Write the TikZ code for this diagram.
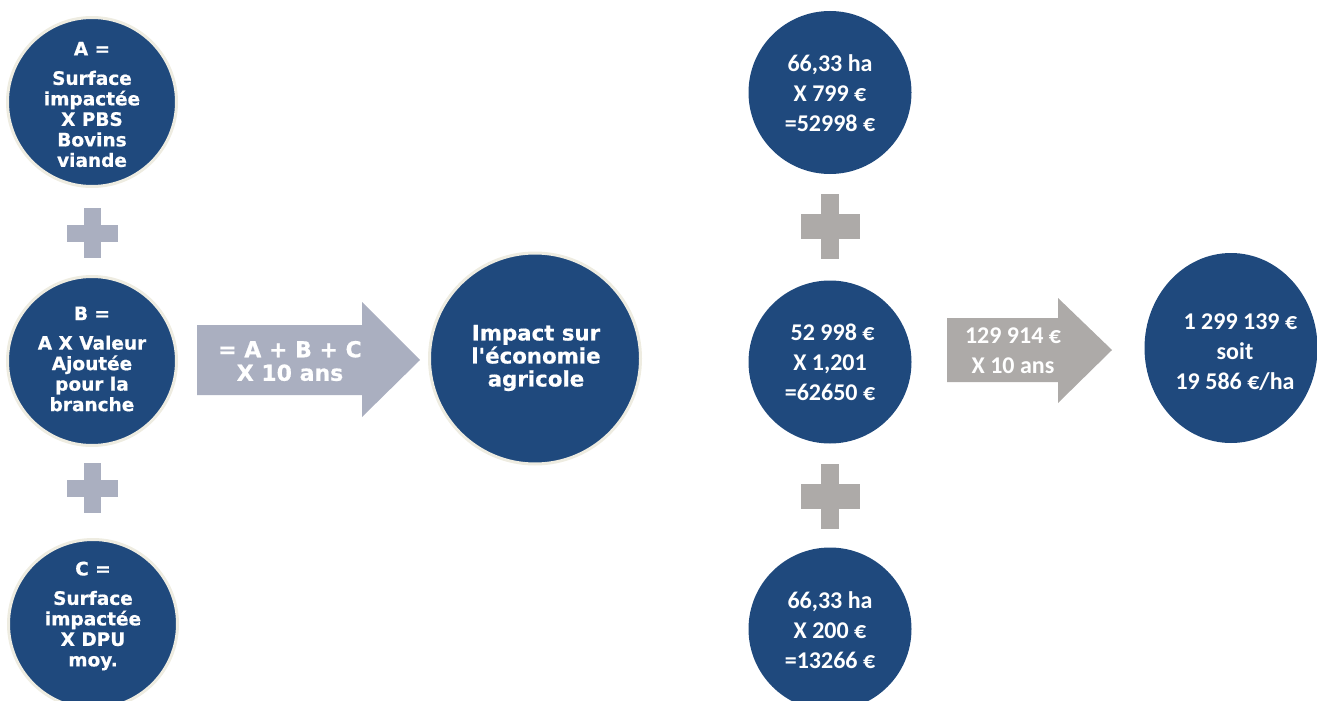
\documentclass[tikz,border=0pt]{standalone}
\usepackage{fontspec}
\newfontfamily\vfont{DejaVu Sans}[BoldFeatures={FakeBold=0.6}]
\newfontfamily\cfont{Carlito}
\usetikzlibrary{shapes.geometric}
\definecolor{dblue}{RGB}{31,73,125}
\definecolor{cream}{RGB}{238,236,225}
\definecolor{bgray}{RGB}{170,175,192}
\definecolor{wgray}{RGB}{173,170,168}
\begin{document}
\begin{tikzpicture}[x=1pt,y=-1pt,
  lcirc/.style={circle, fill=dblue, draw=cream, line width=3pt, minimum size=169pt, inner sep=0pt},
  rcirc/.style={circle, fill=dblue, minimum size=163pt, inner sep=0pt},
  ltext/.style={text=white, align=center, inner sep=0pt, font=\vfont\bfseries\fontsize{18.5}{20.5}\selectfont},
  rtext/.style={text=white, align=center, inner sep=0pt, font=\cfont\bfseries\fontsize{24}{30}\selectfont},
  lplus/.pic={\fill[bgray] (-25.5,-8.5) rectangle (25.5,8.5); \fill[bgray] (-8.5,-25) rectangle (8.5,25);},
  rplus/.pic={\fill[wgray] (-29.5,-12.5) rectangle (29.5,12.5); \fill[wgray] (-9,-32.5) rectangle (9,32.5);}
]
\useasboundingbox (0,0) rectangle (1317,701);

% left column
\node[lcirc] (A) at (92,102) {};
\node[ltext] (At) at (92,104.5) {A =\\[9pt]Surface\\impactée\\X PBS\\Bovins\\viande};
\pic at (92,233) {lplus};
\node[lcirc] (B) at (92,361) {};
\node[ltext] (Bt) at (92,359) {B =\\[9pt]A X Valeur\\Ajoutée\\pour la\\branche};
\pic at (92,488) {lplus};
\node[lcirc] (C) at (93,624) {};
\node[ltext] (Ct) at (93,616) {C =\\[9pt]Surface\\impactée\\X DPU\\moy.};

% arrow 1
\fill[bgray] (197,325) -- (362,325) -- (362,302) -- (420,360) -- (362,417) -- (362,395) -- (197,395) -- cycle;
\node[ltext, font=\vfont\bfseries\fontsize{22}{23.5}\selectfont] (F1) at (290,361) {= A + B + C\\X 10 ans};

% center circle
\node[circle, fill=dblue, draw=cream, line width=3pt, minimum size=211pt, inner sep=0pt] (I) at (535,358.5) {};
\node[ltext, font=\vfont\bfseries\fontsize{21.3}{23}\selectfont] (It) at (536,358) {Impact sur\\l'économie\\agricole};

% right column
\node[rcirc] (R1) at (830,92.5) {};
\node[rtext] (R1t) at (830,93) {66,33 ha\\X 799 €\\=52998 €};
\pic at (830,226) {rplus};
\node[rcirc] (R2) at (830,362) {};
\node[rtext] (R2t) at (830,362) {\hspace*{0.22em}52 998 €\\X 1,201\\=62650 €};
\pic at (830,496) {rplus};
\node[rcirc] (R3) at (830,629) {};
\node[rtext] (R3t) at (830,630) {66,33 ha\\X 200 €\\=13266 €};

% arrow 2
\fill[wgray] (947,318) -- (1058,318) -- (1058,298) -- (1112,350) -- (1058,403) -- (1058,382) -- (947,382) -- cycle;
\node[rtext] (F2) at (1013,351) {129 914 €\\X 10 ans};

% final
\node[ellipse, fill=dblue, minimum width=173pt, minimum height=190pt, inner sep=0pt] (E) at (1231,348) {};
\node[rtext] (Et) at (1235,352) {\hspace*{0.45em}1 299 139 €\\soit\\19 586 €/ha};
\end{tikzpicture}
\end{document}
